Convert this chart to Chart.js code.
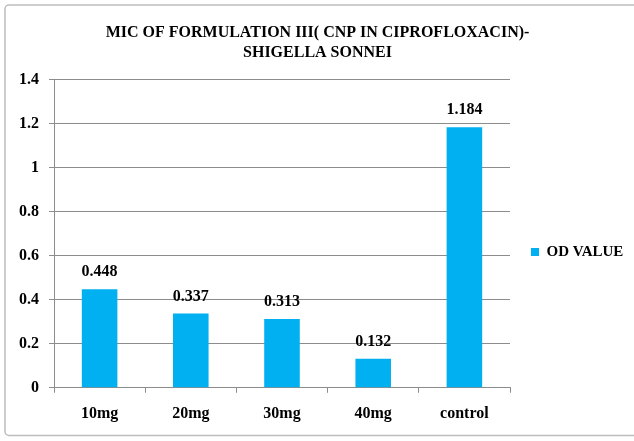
<!DOCTYPE html>
<html>
<head>
<meta charset="utf-8">
<script src="https://cdn.jsdelivr.net/npm/chart.js@4/dist/chart.umd.min.js"></script>
<style>
  html, body { margin: 0; padding: 0; background: #fff; }
  #wrap { width: 634px; height: 441px; position: relative; }
</style>
</head>
<body>
<div id="wrap"><canvas id="micChart"></canvas></div>
<script>
'use strict';

/* MIC - formulation III, Shigella sonnei (OD values) */
const categories = ['10mg', '20mg', '30mg', '40mg', 'control'];
const odValues   = [0.448, 0.337, 0.313, 0.132, 1.184];
const titleLines = ['MIC OF FORMULATION III( CNP IN CIPROFLOXACIN)-', 'SHIGELLA SONNEI'];
const seriesName = 'OD VALUE';

const SERIF = '"Liberation Serif", "Times New Roman", serif';
const BAR_BLUE = '#00B0F0';
const GRID_GREY = '#8C8C8C';
const LEGEND_WIDTH = 116;

// outer frame of the chart (runs off the right edge)
const framePlugin = {
  id: 'frame',
  beforeDraw(chart) {
    const ctx = chart.ctx;
    ctx.save();
    ctx.fillStyle = '#fff';
    ctx.fillRect(0, 0, chart.width, chart.height);
    ctx.strokeStyle = '#BDBDBD';
    ctx.lineWidth = 1.5;
    ctx.beginPath();
    ctx.roundRect(5, 5, chart.width + 10, chart.height - 10.5, 4);
    ctx.stroke();
    ctx.restore();
  },
};

// keep the legend column a fixed width so the plot area ends where we want
const legendWidth = {
  id: 'legendWidth',
  beforeLayout(chart) {
    const lg = chart.legend;
    if (!lg || lg._fixedWidth) return;
    const fit = lg.fit.bind(lg);
    lg.fit = function () { fit(); this.width = LEGEND_WIDTH; };
    lg._fixedWidth = true;
  },
};

// value printed above each bar
const valueLabels = {
  id: 'valueLabels',
  afterDatasetsDraw(chart) {
    const ctx = chart.ctx;
    const meta = chart.getDatasetMeta(0);
    ctx.save();
    ctx.font = 'bold 16px ' + SERIF;
    ctx.fillStyle = '#000';
    ctx.textAlign = 'center';
    ctx.textBaseline = 'middle';
    meta.data.forEach((bar, i) => {
      ctx.fillText(String(odValues[i]), bar.x, bar.y - 17);
    });
    ctx.restore();
  },
};

new Chart(document.getElementById('micChart').getContext('2d'), {
  type: 'bar',
  data: {
    labels: categories,
    datasets: [{
      label: seriesName,
      data: odValues,
      backgroundColor: BAR_BLUE,
      borderWidth: 0,
      categoryPercentage: 1,
      barPercentage: 0.39,
    }],
  },
  options: {
    responsive: true,
    maintainAspectRatio: false,
    animation: false,
    devicePixelRatio: 1,
    layout: { padding: { left: 9, right: 8, top: 12, bottom: 7 } },
    plugins: {
      title: {
        display: true,
        text: titleLines,
        color: '#000',
        font: { family: SERIF, size: 16, weight: 'bold', lineHeight: 1.3 },
        padding: { top: 10, bottom: 16 },
      },
      legend: {
        position: 'right',
        align: 'center',
        // blank title only pushes the entry a little lower
        title: { display: true, text: ' ', font: { size: 10 }, padding: { top: 23, bottom: 23 } },
        labels: {
          color: '#000',
          font: { family: SERIF, size: 15, weight: 'bold' },
          boxWidth: 8,
          boxHeight: 8,
          padding: 21,
        },
      },
      tooltip: { enabled: false },
    },
    scales: {
      x: {
        grid: {
          offset: true,
          drawOnChartArea: false,
          drawTicks: true,
          tickLength: 5,
          color: GRID_GREY,
        },
        border: { color: GRID_GREY },
        ticks: {
          color: '#000',
          padding: 11,
          font: { family: SERIF, size: 16, weight: 'bold' },
        },
      },
      y: {
        min: 0, max: 1.4,
        grid: { color: GRID_GREY, tickLength: 5 },
        border: { color: GRID_GREY },
        ticks: {
          stepSize: 0.2,
          color: '#000',
          padding: 10,
          font: { family: SERIF, size: 16, weight: 'bold' },
          callback: v => Number(v.toFixed(1)).toString(),
        },
      },
    },
  },
  plugins: [framePlugin, legendWidth, valueLabels],
});
</script>
</body>
</html>
